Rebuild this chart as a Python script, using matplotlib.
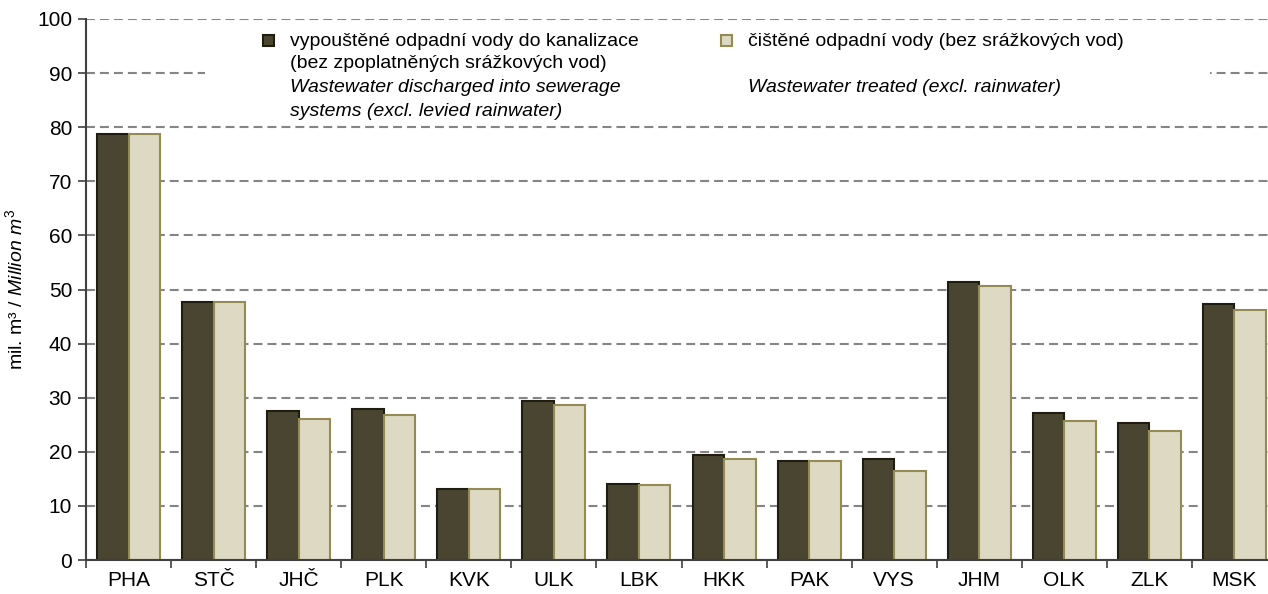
import numpy as np
import matplotlib
matplotlib.use('Agg')
import matplotlib.pyplot as plt
from matplotlib.patches import Rectangle

plt.rcParams['font.family'] = ['Liberation Sans', 'DejaVu Sans']
plt.rcParams['mathtext.fontset'] = 'custom'
plt.rcParams['mathtext.rm'] = 'Liberation Sans'
plt.rcParams['mathtext.it'] = 'Liberation Sans:italic'

# data (mil. m3)
regions = ['PHA', 'STČ', 'JHČ', 'PLK', 'KVK', 'ULK', 'LBK',
           'HKK', 'PAK', 'VYS', 'JHM', 'OLK', 'ZLK', 'MSK']
discharged = [78.7, 47.7, 27.5, 27.9, 13.2, 29.4, 14.0,
              19.4, 18.3, 18.7, 51.3, 27.2, 25.4, 47.4]
treated = [78.7, 47.7, 26.0, 26.8, 13.2, 28.6, 13.9,
           18.7, 18.3, 16.5, 50.6, 25.7, 23.9, 46.2]

dark = '#4a4530'
dark_edge = '#1f1d12'
light = '#ddd9c3'
light_edge = '#948a54'

fig = plt.figure(figsize=(12.68, 5.94), dpi=100)
ax = fig.add_axes([86/1268, 1 - 560/594, (1277 - 86)/1268, (560 - 19)/594])

x = np.arange(len(regions))
w = 0.37
ax.bar(x - w/2, discharged, w, color=dark, edgecolor=dark_edge, linewidth=1.5, zorder=3)
ax.bar(x + w/2, treated, w, color=light, edgecolor=light_edge, linewidth=1.5, zorder=3)

ax.set_xlim(-0.5, len(regions) - 0.5)
ax.set_ylim(0, 100)
ax.set_yticks(np.arange(0, 101, 10))
ax.yaxis.grid(True, color='#858585', linestyle=(0, (4.3, 2.4)), linewidth=1.5, zorder=1)
ax.set_axisbelow(True)

ax.set_xticks(x)
ax.set_xticklabels(regions)
ax.set_xticks(np.arange(-0.5, len(regions), 1), minor=True)
ax.tick_params(axis='x', which='major', length=0, labelsize=15, pad=8)
ax.tick_params(axis='x', which='minor', length=6, width=1.2, color='#404040')
ax.tick_params(axis='y', length=6, width=1.2, color='#404040', labelsize=15, pad=4)

for s in ['top', 'right']:
    ax.spines[s].set_visible(False)
for s in ['left', 'bottom']:
    ax.spines[s].set_color('#404040')
    ax.spines[s].set_linewidth(1.5)
    ax.spines[s].set_zorder(4)

ax.set_ylabel('mil. m³ / $\\mathit{Million\\ m^3}$', fontsize=14, labelpad=8)

# legend area (white background over the gridlines)
ax.add_patch(Rectangle(((205 - 86)/1191, (560 - 120)/541), (1210 - 205)/1191, 90/541,
                       transform=ax.transAxes, facecolor='white', edgecolor='none', zorder=2))

def fx(px):
    return px / 1268

def fy(py):
    return 1 - py / 594

fig.add_artist(Rectangle((fx(263), fy(46)), 11/1268, 11/594, transform=fig.transFigure,
                         facecolor=dark, edgecolor=dark_edge, linewidth=1.5))
fig.add_artist(Rectangle((fx(721), fy(46)), 11/1268, 11/594, transform=fig.transFigure,
                         facecolor=light, edgecolor=light_edge, linewidth=1.5))

fs = 14
fig.text(fx(290), fy(41), 'vypouštěné odpadní vody do kanalizace', fontsize=fs, va='center')
fig.text(fx(290), fy(64), '(bez zpoplatněných srážkových vod)', fontsize=fs, va='center')
fig.text(fx(290), fy(88), 'Wastewater discharged into sewerage', fontsize=fs, va='center', style='italic')
fig.text(fx(290), fy(111), 'systems (excl. levied rainwater)', fontsize=fs, va='center', style='italic')
fig.text(fx(748), fy(41), 'čištěné odpadní vody (bez srážkových vod)', fontsize=fs, va='center')
fig.text(fx(748), fy(88), 'Wastewater treated (excl. rainwater)', fontsize=fs, va='center', style='italic')

fig.savefig('out.png', dpi=100)
